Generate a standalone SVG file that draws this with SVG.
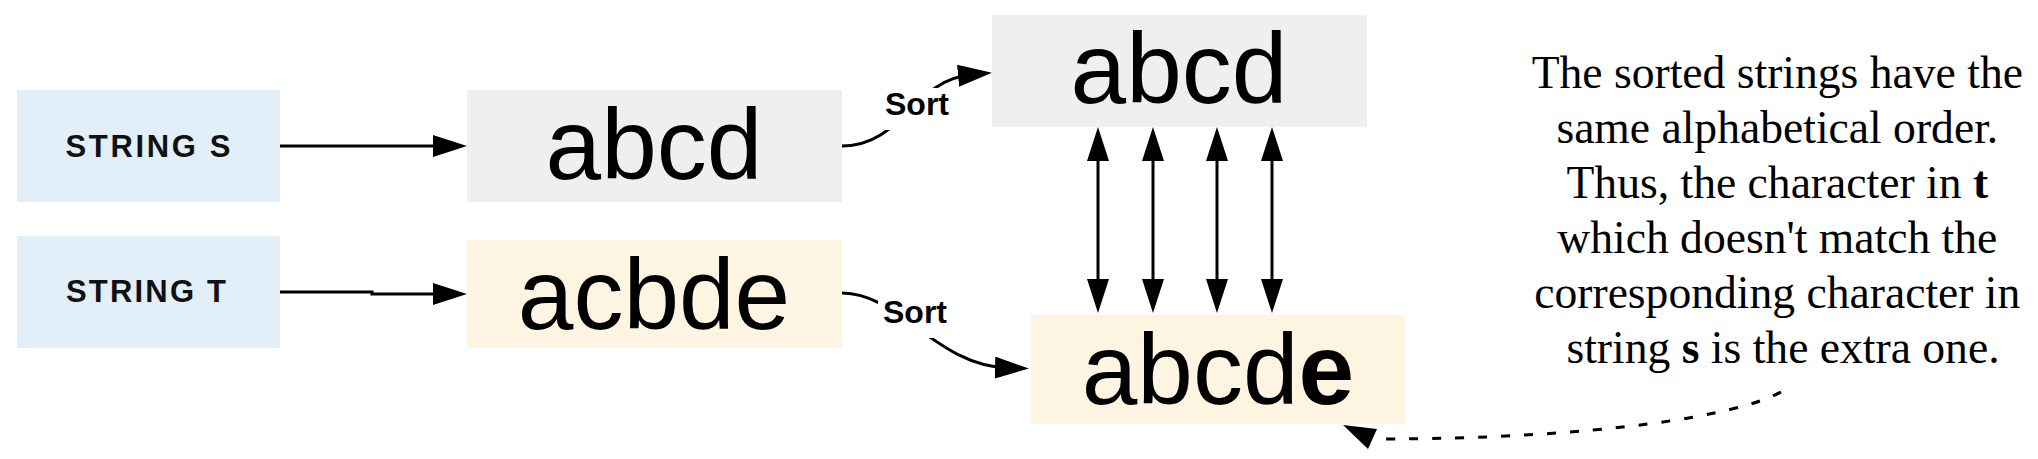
<svg xmlns="http://www.w3.org/2000/svg" width="2038" height="459" viewBox="0 0 2038 459">
<defs>
<marker id="arr" viewBox="0 0 34 22" refX="14" refY="11" markerWidth="34" markerHeight="22" markerUnits="userSpaceOnUse" orient="auto-start-reverse"><path d="M0,0 L34,11 L0,22 Z" fill="#000"/></marker>
</defs>
<style>
.lbl{font-family:"Liberation Sans",Arial,sans-serif;font-weight:bold;font-size:31px;fill:#111}
.big{font-family:"Liberation Sans",Arial,sans-serif;font-size:100px;fill:#000}
.note{font-family:"Liberation Serif","Times New Roman",serif;font-size:45.6px;fill:#000}
.sort{font-family:"Liberation Sans",Arial,sans-serif;font-weight:bold;font-size:32px;fill:#000}
.edge{fill:none;stroke:#000;stroke-width:3}
.blue{fill:#E2EFF8}
.grey{fill:#EFEFEF}
.yellow{fill:#FDF5E1}
</style>
<rect width="2038" height="459" fill="#fff"/>
<g id="string-s">
<rect class="blue" x="17" y="90" width="263" height="112"/>
<text class="lbl" x="148" y="157" text-anchor="middle" textLength="165" lengthAdjust="spacing">STRING S</text>
</g>
<g id="string-t">
<rect class="blue" x="17" y="236" width="263" height="112"/>
<text class="lbl" x="146" y="302" text-anchor="middle" textLength="160" lengthAdjust="spacing">STRING T</text>
</g>
<g id="s-value">
<rect class="grey" x="467" y="90" width="375" height="112"/>
<text class="big" x="654" y="179" text-anchor="middle">abcd</text>
</g>
<g id="t-value">
<rect class="yellow" x="467" y="240" width="375" height="108"/>
<text class="big" x="654" y="329" text-anchor="middle">acbde</text>
</g>
<g id="s-sorted">
<rect class="grey" x="992" y="15" width="375" height="112"/>
<text class="big" x="1179" y="103" text-anchor="middle">abcd</text>
</g>
<g id="t-sorted">
<rect class="yellow" x="1031" y="315" width="374" height="109"/>
<text class="big" x="1218" y="404" text-anchor="middle">abcd<tspan font-weight="bold">e</tspan></text>
</g>
<g id="note">
<text class="note" text-anchor="middle">
<tspan x="1783" y="88">The sorted strings have the</tspan>
<tspan x="1783" y="143">same alphabetical order.</tspan>
<tspan x="1783" y="198">Thus, the character in <tspan font-weight="bold">t</tspan></tspan>
<tspan x="1783" y="253">which doesn't match the</tspan>
<tspan x="1783" y="308">corresponding character in</tspan>
<tspan x="1783" y="363">string <tspan font-weight="bold">s</tspan> is the extra one.</tspan>
</text>
</g>
<g id="connectors">
<path class="edge" d="M280,146 H447" marker-end="url(#arr)"/>
<path class="edge" d="M280,292 H372 V294 H447" marker-end="url(#arr)"/>
<path class="edge" d="M842,146 C 903,146 912,80 972,74.5" marker-end="url(#arr)"/>
<path class="edge" d="M842,293 C 900,293 935,366 1009,368" marker-end="url(#arr)"/>
<path class="edge" d="M1098,147 V293" marker-start="url(#arr)" marker-end="url(#arr)"/>
<path class="edge" d="M1153,147 V293" marker-start="url(#arr)" marker-end="url(#arr)"/>
<path class="edge" d="M1217,147 V293" marker-start="url(#arr)" marker-end="url(#arr)"/>
<path class="edge" d="M1272,147 V293" marker-start="url(#arr)" marker-end="url(#arr)"/>
<path class="edge" d="M1781,392 C 1740,415 1600,439 1376,439" stroke-dasharray="9 14"/>
<polygon points="1343,425 1377,429 1368,449" fill="#000"/>
<rect x="882" y="88" width="70" height="42" fill="#fff"/>
<text class="sort" x="917" y="115" text-anchor="middle">Sort</text>
<rect x="878" y="296" width="74" height="42" fill="#fff"/>
<text class="sort" x="915" y="323" text-anchor="middle">Sort</text>
</g>
</svg>
